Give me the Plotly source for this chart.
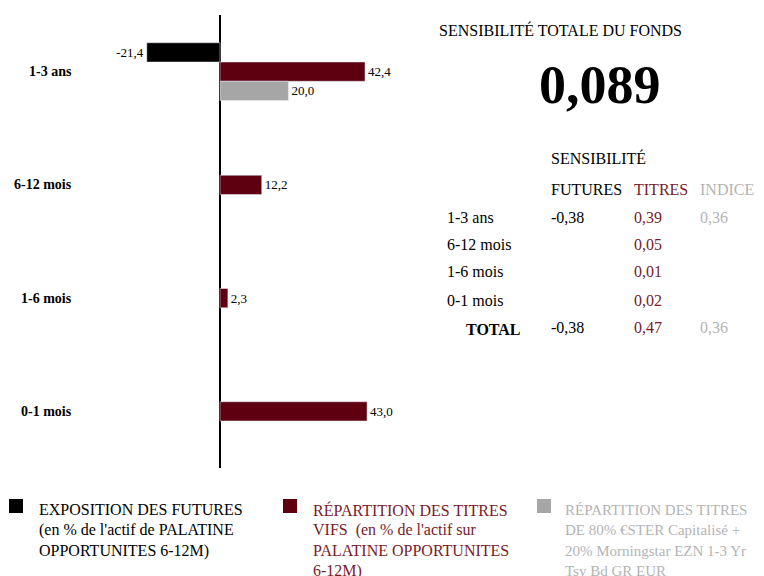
import plotly.graph_objects as go

categories = ["1-3 ans", "6-12 mois", "1-6 mois", "0-1 mois"]
futures = [-21.4, None, None, None]
titres = [42.4, 12.2, 2.3, 43.0]
indice = [20.0, None, None, None]

total_sens = "0,089"
table_rows = ["1-3 ans", "6-12 mois", "1-6 mois", "0-1 mois"]
sens_futures = ["-0,38", "", "", ""]
sens_titres = ["0,39", "0,05", "0,01", "0,02"]
sens_indice = ["0,36", "", "", ""]
total_futures, total_titres, total_indice = "-0,38", "0,47", "0,36"

legend_lines = [
    ["EXPOSITION DES FUTURES", "(en % de l'actif de PALATINE", "OPPORTUNITES 6-12M)"],
    ["RÉPARTITION DES TITRES", "VIFS  (en % de l'actif sur", "PALATINE OPPORTUNITES", "6-12M)"],
    ["RÉPARTITION DES TITRES", "DE 80% €STER Capitalisé +", "20% Morningstar EZN 1-3 Yr", "Tsy Bd GR EUR"],
]

BLACK = "#000000"
RED = "#5E000F"
RED_TXT = "#7A1A28"
GRAY = "#A6A6A6"
GRAY_TXT = "#B4B4B4"
FONT = "Liberation Serif"
W, H = 764, 576
OFF = 8  # page offset of the figure in the browser
PAD = 2  # annotation inner padding


def fx(px):
    return (px - OFF) / W


def fy(py):
    return 1 - (py - OFF) / H


def fmt(v):
    return "" if v is None else f"{v:.1f}".replace(".", ",")


fig = go.Figure()
for vals, col in [(futures, BLACK), (titres, RED), (indice, GRAY)]:
    fig.add_trace(go.Bar(
        y=categories, x=vals, orientation="h", marker_color=col,
        text=[fmt(v) for v in vals], textposition="outside",
        textfont=dict(family=FONT, size=13, color="#000000"),
        cliponaxis=False, showlegend=False, hoverinfo="skip",
    ))

px_per_unit = 3.42
x0px, plot_left, plot_right = 220, 8, 420
xmin = (plot_left - x0px) / px_per_unit
xmax = (plot_right - x0px) / px_per_unit

fig.update_layout(
    width=W, height=H, margin=dict(l=0, r=0, t=0, b=0),
    paper_bgcolor="white", plot_bgcolor="white",
    barmode="group", bargap=0.49, bargroupgap=0,
    font=dict(family=FONT, size=16, color="#000000"),
    xaxis=dict(domain=[fx(plot_left), fx(plot_right)], range=[xmin, xmax],
               showgrid=False, showticklabels=False, ticks="",
               zeroline=True, zerolinecolor="#000000", zerolinewidth=2),
    yaxis=dict(domain=[fy(468), fy(15)], autorange="reversed",
               showgrid=False, showticklabels=False, ticks="", zeroline=False),
)

# category labels (right-aligned)
for c in categories:
    fig.add_annotation(x=(72 + PAD - x0px) / px_per_unit, y=c, xref="x", yref="y",
                       text=f"<b>{c}</b>", showarrow=False, xanchor="right",
                       font=dict(family=FONT, size=14))


def ann(px, py, text, color="#000000", size=16, xanchor="left", bold=False):
    shift = -PAD if xanchor == "left" else 0
    fig.add_annotation(x=fx(px + shift), y=fy(py), xref="paper", yref="paper",
                       text=f"<b>{text}</b>" if bold else text, showarrow=False,
                       xanchor=xanchor, yanchor="middle", align="left",
                       font=dict(family=FONT, size=size, color=color))


ann(439, 30, "SENSIBILITÉ TOTALE DU FONDS")
ann(600, 85, total_sens, size=54, xanchor="center", bold=True)
ann(551, 158, "SENSIBILITÉ")
ann(551, 189, "FUTURES")
ann(634, 189, "TITRES", color=RED_TXT)
ann(700, 189, "INDICE", color=GRAY_TXT)
row_y = [218, 245, 272, 300]
for i, r in enumerate(table_rows):
    ann(447, row_y[i], r)
    if sens_futures[i]:
        ann(551, row_y[i], sens_futures[i])
    if sens_titres[i]:
        ann(634, row_y[i], sens_titres[i], color=RED_TXT)
    if sens_indice[i]:
        ann(700, row_y[i], sens_indice[i], color=GRAY_TXT)
ann(466, 329, "TOTAL", bold=True)
ann(551, 327, total_futures)
ann(634, 327, total_titres, color=RED_TXT)
ann(700, 327, total_indice, color=GRAY_TXT)

# legend
leg_x = [9, 283, 537]
leg_txt_x = [39, 313, 565]
leg_sizes = [16, 16, 15]
leg_cols = [BLACK, RED, GRAY]
leg_txt_cols = ["#000000", RED_TXT, GRAY_TXT]
for i in range(3):
    fig.add_shape(type="rect", xref="paper", yref="paper",
                  x0=fx(leg_x[i]), x1=fx(leg_x[i] + 14),
                  y0=fy(513), y1=fy(499),
                  fillcolor=leg_cols[i], line_width=0)
    for j, line in enumerate(legend_lines[i]):
        ann(leg_txt_x[i], 509.5 + 20.6 * j, line, color=leg_txt_cols[i],
            size=leg_sizes[i])

fig.write_html("out.html")
